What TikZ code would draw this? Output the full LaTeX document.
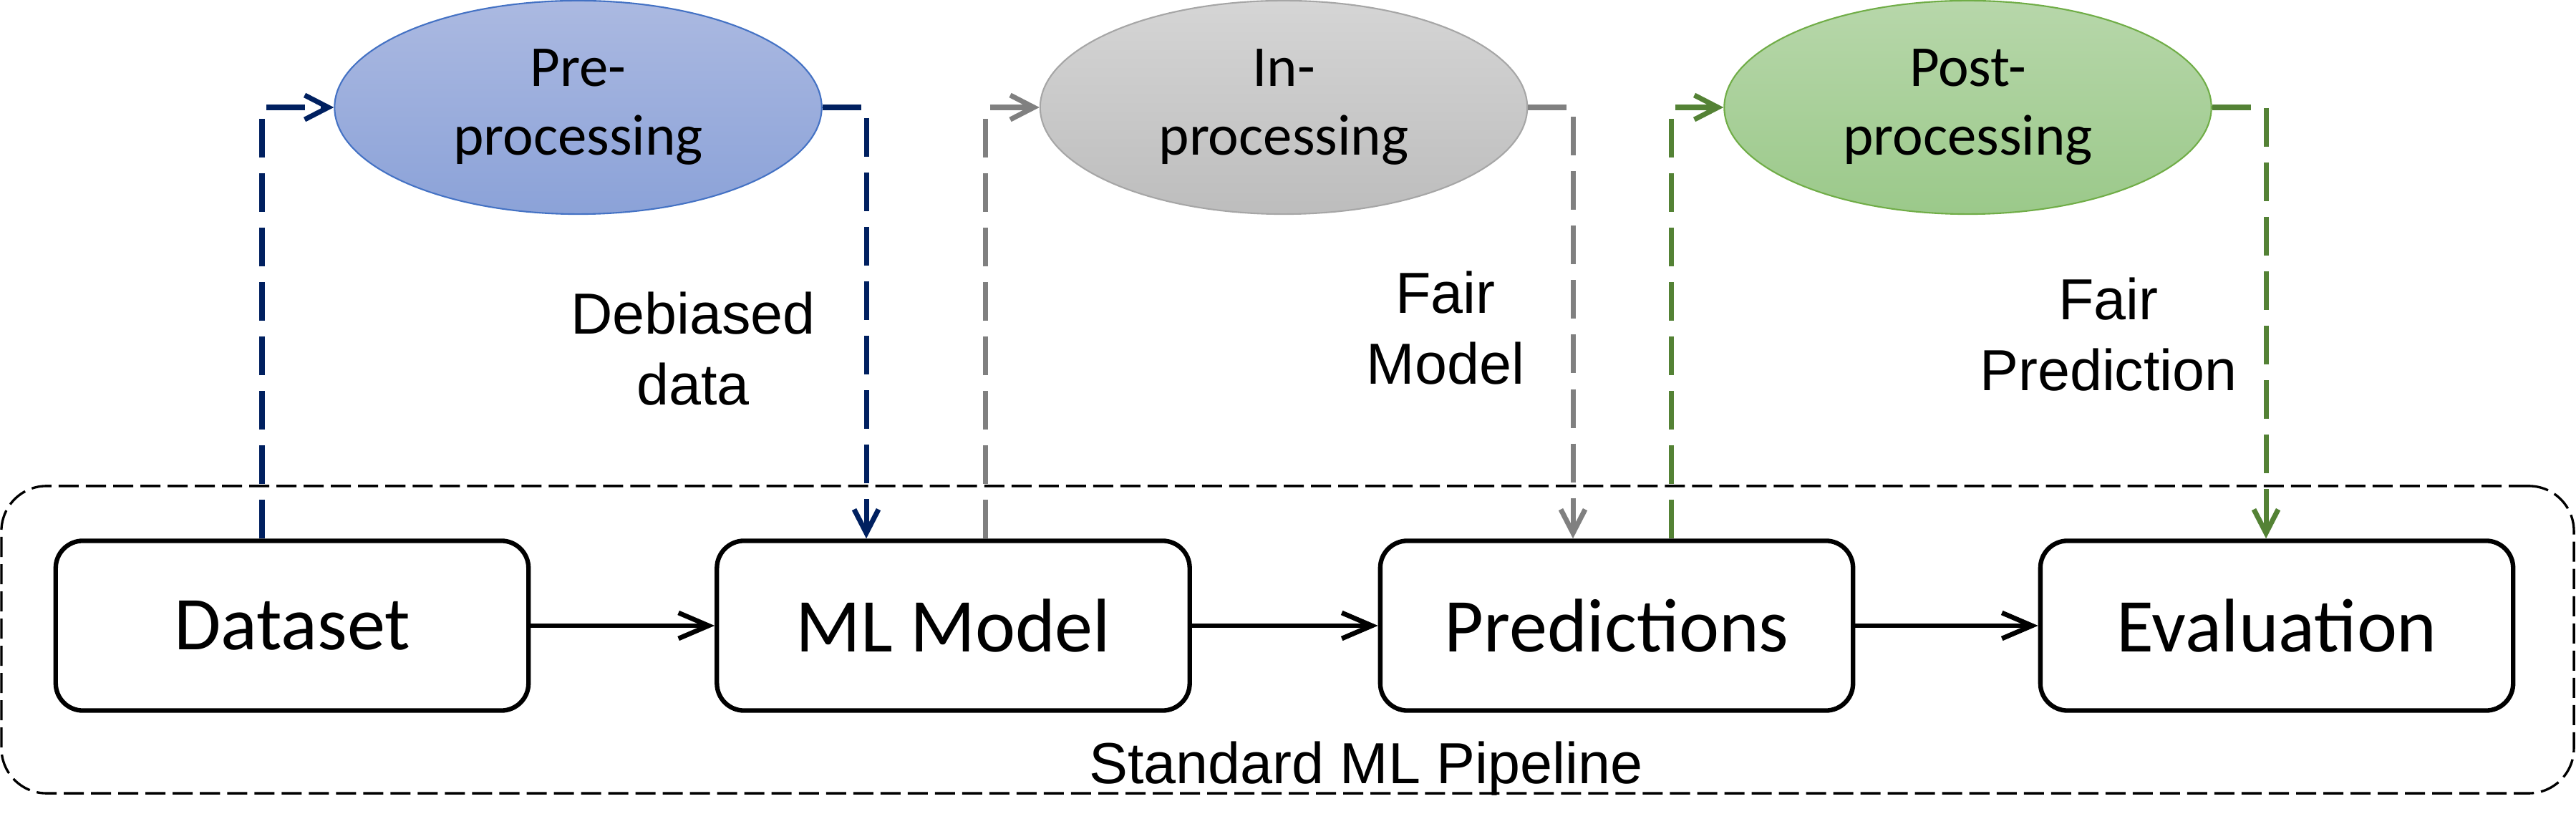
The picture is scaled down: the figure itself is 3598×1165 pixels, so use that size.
\documentclass[tikz,border=0pt]{standalone}
\usepackage{fontspec}
\setmainfont{Carlito}
\newfontfamily\arialf{Liberation Sans}
\usetikzlibrary{shapes.geometric,arrows.meta,calc}
\definecolor{navyline}{HTML}{002060}
\definecolor{preTop}{HTML}{ABB9E1}
\definecolor{preBot}{HTML}{8BA2D8}
\definecolor{preBorder}{HTML}{4472C4}
\definecolor{grayline}{HTML}{808080}
\definecolor{inTop}{HTML}{D5D5D5}
\definecolor{inBot}{HTML}{BDBDBD}
\definecolor{inBorder}{HTML}{A6A6A6}
\definecolor{greenline}{HTML}{548235}
\definecolor{postTop}{HTML}{B7D7AA}
\definecolor{postBot}{HTML}{9BC98A}
\definecolor{postBorder}{HTML}{70AD47}
\begin{document}
\begin{tikzpicture}[x=0.01cm,y=-0.01cm,
  stagebox/.style={draw=black, line width=1.8pt, rounded corners=0.38cm,
    minimum width=6.6cm, minimum height=2.37cm, inner sep=0pt,
    font=\fontsize{30.2pt}{36pt}\selectfont},
  method/.style={ellipse, line width=0.6pt, minimum width=6.8cm, minimum height=2.98cm,
    inner sep=0pt, align=center, font=\fontsize{23pt}{27.3pt}\selectfont},
  flow/.style={line width=1.9pt, -{Straight Barb[length=0.42cm,width=0.36cm]}},
  fixlink/.style={line width=2pt, dash pattern=on 0.54cm off 0.22cm},
  fixarrow/.style={fixlink, -{Straight Barb[length=0.33cm,width=0.34cm]}},
  lbl/.style={font=\arialf\fontsize{23pt}{28.2pt}\selectfont, align=center, inner sep=0pt},
]
\useasboundingbox (0,0) rectangle (3598,1165);

% container
\node[draw=black, line width=0.95pt, dash pattern=on 0.28cm off 0.1cm,
  rounded corners=0.63cm, minimum width=35.91cm, minimum height=4.29cm,
  inner sep=0pt] (pipe) at (1798.5,893.5) {};
\node[lbl, anchor=base] (pipelbl) at (1908,1094) {Standard ML Pipeline};

% stages
\node[stagebox] (ds) at (408,874) {Dataset};
\node[stagebox] (ml) at (1331.5,874) {ML Model};
\node[stagebox] (pr) at (2258,874) {Predictions};
\node[stagebox] (ev) at (3180,874) {Evaluation};

\draw[flow] (ds.east) -- (ml.west);
\draw[flow] (ml.east) -- (pr.west);
\draw[flow] (pr.east) -- (ev.west);

% methods
\node[method, draw=preBorder, top color=preTop, bottom color=preBot] (pre) at (807.5,150) {Pre-\\processing};
\node[method, draw=inBorder, top color=inTop, bottom color=inBot] (inp) at (1793,150) {In-\\processing};
\node[method, draw=postBorder, top color=postTop, bottom color=postBot] (post) at (2748.5,150) {Post-\\processing};

% connectors
\draw[fixarrow, navyline] ($(ds.north)+(-42,0)$) |- (pre.west);
\draw[fixarrow, navyline] (pre.east) -| ($(ml.north)+(-121.5,0)$);
\draw[fixarrow, grayline] ($(ml.north)+(45,0)$) |- (inp.west);
\draw[fixarrow, grayline] (inp.east) -| ($(pr.north)+(-61,0)$);
\draw[fixarrow, greenline] ($(pr.north)+(76,0)$) |- (post.west);
\draw[fixarrow, greenline] (post.east) -| ($(ev.north)+(-15,0)$);

% labels
\node[lbl, anchor=north] (deb) at (968,407) {Debiased\\data};
\node[lbl, anchor=north] (fm) at (2019,378) {Fair\\Model};
\node[lbl, anchor=north] (fp) at (2945,387) {Fair\\Prediction};
\end{tikzpicture}
\end{document}
